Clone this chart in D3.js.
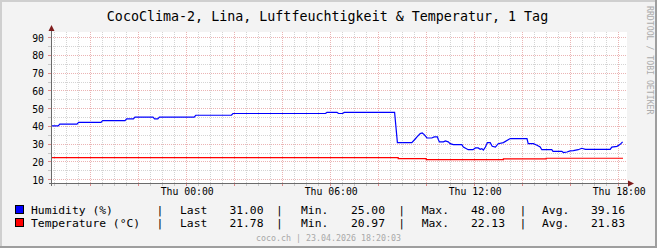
<!DOCTYPE html>
<html>
<head>
<meta charset="utf-8">
<script src="https://cdn.jsdelivr.net/npm/d3@7"></script>
<style>
  body { margin: 0; background: #f3f3f3; }
  svg { display: block; }
  text { font-family: "DejaVu Sans Mono", monospace; }
</style>
</head>
<body>
<div id="chart"></div>
<script>
// data
var humTimes = [
  "2026-04-22 18:22", "2026-04-22 18:40", "2026-04-22 18:44", "2026-04-22 19:27", "2026-04-22 19:31",
  "2026-04-22 20:27", "2026-04-22 20:31", "2026-04-22 21:27", "2026-04-22 21:31", "2026-04-22 21:48",
  "2026-04-22 21:52", "2026-04-22 22:37", "2026-04-22 22:41", "2026-04-22 22:49", "2026-04-22 22:53",
  "2026-04-23 00:20", "2026-04-23 00:24", "2026-04-23 01:53", "2026-04-23 01:57", "2026-04-23 05:48",
  "2026-04-23 05:52", "2026-04-23 06:17", "2026-04-23 06:21", "2026-04-23 06:31", "2026-04-23 06:35",
  "2026-04-23 08:41", "2026-04-23 08:48", "2026-04-23 09:24", "2026-04-23 09:32", "2026-04-23 09:37",
  "2026-04-23 09:45", "2026-04-23 09:50", "2026-04-23 09:55", "2026-04-23 10:02", "2026-04-23 10:14",
  "2026-04-23 10:20", "2026-04-23 10:28", "2026-04-23 10:30", "2026-04-23 10:33", "2026-04-23 10:43",
  "2026-04-23 10:48", "2026-04-23 10:55", "2026-04-23 11:00", "2026-04-23 11:08", "2026-04-23 11:29",
  "2026-04-23 11:33", "2026-04-23 11:45", "2026-04-23 11:57", "2026-04-23 12:03", "2026-04-23 12:10",
  "2026-04-23 12:15", "2026-04-23 12:19", "2026-04-23 12:23", "2026-04-23 12:28", "2026-04-23 12:33",
  "2026-04-23 12:40", "2026-04-23 12:45", "2026-04-23 12:53", "2026-04-23 13:00", "2026-04-23 13:13",
  "2026-04-23 13:30", "2026-04-23 14:12", "2026-04-23 14:15", "2026-04-23 14:28", "2026-04-23 14:37",
  "2026-04-23 14:45", "2026-04-23 14:49", "2026-04-23 15:14", "2026-04-23 15:17", "2026-04-23 15:39",
  "2026-04-23 15:43", "2026-04-23 15:52", "2026-04-23 16:00", "2026-04-23 16:08", "2026-04-23 16:20",
  "2026-04-23 16:29", "2026-04-23 16:38", "2026-04-23 17:40", "2026-04-23 17:44", "2026-04-23 17:57",
  "2026-04-23 18:05", "2026-04-23 18:11"
];
var humValues = [
  40, 40, 41, 41, 42,
  42, 43, 43, 44, 44,
  45, 45, 44, 44, 45,
  45, 46, 46, 47, 47,
  47.6, 47.6, 47, 47, 47.6,
  47.6, 30.6, 30.6, 32.5, 33.8,
  35.7, 36.0, 35.1, 33.2, 33.2,
  33.8, 33.8, 32.5, 31.0, 31.0,
  31.5, 31.0, 30.0, 29.5, 29.5,
  28.1, 26.6, 26.6, 27.6, 27.6,
  26.8, 27.2, 26.4, 28.1, 30.6,
  30.6, 28.5, 28.1, 30.0, 30.6,
  32.9, 32.9, 30.0, 30.0, 29.1,
  28.1, 26.6, 26.6, 25.7, 25.7,
  25.0, 25.3, 25.9, 26.1, 26.6,
  27.4, 26.8, 26.8, 28.1, 28.5,
  29.6, 31.0
];

var tempTimes = ["2026-04-22 18:22", "2026-04-23 08:50", "2026-04-23 10:00", "2026-04-23 13:13", "2026-04-23 15:00", "2026-04-23 18:12"];
var tempValues = [22.1, 21.6, 21.0, 21.4, 21.8, 21.8];

var yTicks = [10, 20, 30, 40, 50, 60, 70, 80, 90];

var seriesNames = ["Humidity (%)", "Temperature (°C)"];
var lastVals = ["31.00", "21.78"];
var minVals = ["25.00", "20.97"];
var maxVals = ["48.00", "22.13"];
var avgVals = ["39.16", "21.83"];

var title = "CocoClima-2, Lina, Luftfeuchtigkeit & Temperatur, 1 Tag";
var footer = "coco.ch  | 23.04.2026 18:20:03";
var watermark = "RRDTOOL / TOBI OETIKER";

var W = 657, H = 248;
var margin = { left: 51, right: 30, top: 32, bottom: 65 };
var plotR = W - margin.right, plotB = H - margin.bottom;

var parse = d3.timeParse("%Y-%m-%d %H:%M");

var svg = d3.select("#chart").append("svg")
  .attr("width", W)
  .attr("height", H);

// frame
svg.append("rect").attr("width", W).attr("height", H).attr("fill", "#f3f3f3");
svg.append("rect").attr("x", 0).attr("y", 0).attr("width", W).attr("height", 2).attr("fill", "#cfcfcf");
svg.append("rect").attr("x", 0).attr("y", 0).attr("width", 2).attr("height", H).attr("fill", "#cfcfcf");
svg.append("rect").attr("x", W - 2).attr("y", 0).attr("width", 2).attr("height", H).attr("fill", "#9e9e9e");
svg.append("rect").attr("x", 0).attr("y", H - 2).attr("width", W).attr("height", 2).attr("fill", "#9e9e9e");

var x = d3.scaleTime()
  .domain([parse("2026-04-22 18:22"), parse("2026-04-23 18:22")])
  .range([margin.left, plotR]);

var y = d3.scaleLinear()
  .domain([7.85, 92.9])
  .range([plotB, margin.top]);

// plot background
svg.append("rect")
  .attr("x", margin.left).attr("y", margin.top)
  .attr("width", plotR - margin.left).attr("height", plotB - margin.top)
  .attr("fill", "#ffffff");

var grid = svg.append("g").attr("shape-rendering", "crispEdges");
var px = v => Math.round(v) + 0.5;

// minor grid
var minorX = d3.timeMinute.every(30).range(x.domain()[0], x.domain()[1])
  .filter(d => !(d.getMinutes() === 0 && d.getHours() % 2 === 0));
var majorX = d3.timeHour.every(2).range(x.domain()[0], x.domain()[1]);
var minorY = d3.range(15, 91, 10);

grid.selectAll(".mx").data(minorX).enter().append("line")
  .attr("x1", d => px(x(d))).attr("x2", d => px(x(d)))
  .attr("y1", margin.top).attr("y2", plotB)
  .attr("stroke", "#d4d4d4").attr("stroke-dasharray", "1,1");
grid.selectAll(".my").data(minorY).enter().append("line")
  .attr("x1", margin.left).attr("x2", plotR)
  .attr("y1", d => px(y(d))).attr("y2", d => px(y(d)))
  .attr("stroke", "#d4d4d4").attr("stroke-dasharray", "1,1");

// major grid
grid.selectAll(".Mx").data(majorX).enter().append("line")
  .attr("x1", d => px(x(d))).attr("x2", d => px(x(d)))
  .attr("y1", margin.top).attr("y2", plotB)
  .attr("stroke", "#ebb4b4").attr("stroke-dasharray", "1,1");
grid.selectAll(".My").data(yTicks).enter().append("line")
  .attr("x1", margin.left).attr("x2", plotR)
  .attr("y1", d => px(y(d))).attr("y2", d => px(y(d)))
  .attr("stroke", "#ebb4b4").attr("stroke-dasharray", "1,1");

// small ticks on the axes
grid.selectAll(".tx").data(minorX.concat(majorX)).enter().append("line")
  .attr("x1", d => px(x(d))).attr("x2", d => px(x(d)))
  .attr("y1", plotB).attr("y2", plotB + 3)
  .attr("stroke", (d, i) => i < minorX.length ? "#c8c8c8" : "#e08a8a");
grid.selectAll(".ty").data(minorY.concat(yTicks)).enter().append("line")
  .attr("x1", margin.left - 3).attr("x2", margin.left)
  .attr("y1", d => px(y(d))).attr("y2", d => px(y(d)))
  .attr("stroke", (d, i) => i < minorY.length ? "#c8c8c8" : "#e08a8a");

// series
var hum = humTimes.map((t, i) => ({ t: parse(t), v: humValues[i] }));
var temp = tempTimes.map((t, i) => ({ t: parse(t), v: tempValues[i] }));

svg.append("path")
  .datum(temp)
  .attr("fill", "none")
  .attr("stroke", "#ff0000")
  .attr("stroke-width", 1.2)
  .attr("d", d3.line().curve(d3.curveStepAfter).x(d => x(d.t)).y(d => y(d.v)));

svg.append("path")
  .datum(hum)
  .attr("fill", "none")
  .attr("stroke", "#0000ff")
  .attr("stroke-width", 1.2)
  .attr("d", d3.line().x(d => x(d.t)).y(d => y(d.v)));

// axis lines with arrows
var axisG = svg.append("g").attr("shape-rendering", "crispEdges");
axisG.append("line")
  .attr("x1", margin.left + 0.5).attr("x2", margin.left + 0.5)
  .attr("y1", plotB + 3).attr("y2", margin.top - 3)
  .attr("stroke", "#6a6a6a");
axisG.append("line")
  .attr("x1", margin.left - 2).attr("x2", plotR + 1)
  .attr("y1", plotB + 0.5).attr("y2", plotB + 0.5)
  .attr("stroke", "#6a6a6a");
svg.append("path")
  .attr("d", `M${margin.left - 2.5},${margin.top - 1}L${margin.left + 0.5},${margin.top - 7}L${margin.left + 3.5},${margin.top - 1}Z`)
  .attr("fill", "#7f1d1d");
svg.append("path")
  .attr("d", `M${plotR + 1},${plotB - 2.5}L${plotR + 7},${plotB + 0.5}L${plotR + 1},${plotB + 3.5}Z`)
  .attr("fill", "#7f1d1d");

// axis labels
var xAxis = d3.axisBottom(x)
  .ticks(d3.timeHour.every(6))
  .tickSize(0)
  .tickPadding(0)
  .tickFormat(d3.timeFormat("%a %H:%M"));
var xg = svg.append("g").attr("transform", `translate(0.5, ${plotB})`).call(xAxis);
xg.select(".domain").remove();
xg.selectAll("text")
  .attr("y", 12)
  .attr("dy", 0)
  .attr("fill", "#000")
  .style("font-family", "DejaVu Sans Mono")
  .style("font-size", "9.8px");

var yAxis = d3.axisLeft(y).tickValues(yTicks).tickSize(0).tickPadding(0);
var yg = svg.append("g").attr("transform", `translate(${margin.left - 7}, 0.5)`).call(yAxis);
yg.select(".domain").remove();
yg.selectAll("text")
  .attr("x", 0)
  .attr("dy", "0.36em")
  .attr("fill", "#000")
  .style("font-family", "DejaVu Sans Mono")
  .style("font-size", "9.8px");

// title
svg.append("text")
  .attr("x", 327.5).attr("y", 20.5)
  .attr("text-anchor", "middle")
  .attr("font-size", "13.33px")
  .attr("fill", "#000")
  .text(title);

// watermark
svg.append("text")
  .attr("transform", "translate(646.5, 6) rotate(90)")
  .attr("font-size", "8.2px")
  .attr("fill", "#ababab")
  .text(watermark);

// legend
var colors = ["#0000ff", "#ff0000"];
var rowY = [213.5, 226.5];
var legend = svg.append("g").attr("font-size", "11.33px").attr("fill", "#000");
seriesNames.forEach((name, i) => {
  var yy = rowY[i];
  legend.append("rect")
    .attr("x", 15.5).attr("y", yy - 8)
    .attr("width", 8).attr("height", 8)
    .attr("fill", colors[i]).attr("stroke", "#000");
  legend.append("text").attr("x", 31).attr("y", yy).text(name);
  [160, 279.3, 401.7, 523].forEach(cx => {
    legend.append("text").attr("x", cx).attr("y", yy).attr("text-anchor", "middle").text("|");
  });
  legend.append("text").attr("x", 180).attr("y", yy).text("Last");
  legend.append("text").attr("x", 263.5).attr("y", yy).attr("text-anchor", "end").text(lastVals[i]);
  legend.append("text").attr("x", 301).attr("y", yy).text("Min.");
  legend.append("text").attr("x", 385).attr("y", yy).attr("text-anchor", "end").text(minVals[i]);
  legend.append("text").attr("x", 421.7).attr("y", yy).text("Max.");
  legend.append("text").attr("x", 505).attr("y", yy).attr("text-anchor", "end").text(maxVals[i]);
  legend.append("text").attr("x", 542).attr("y", yy).text("Avg.");
  legend.append("text").attr("x", 625).attr("y", yy).attr("text-anchor", "end").text(avgVals[i]);
});

// footer
svg.append("text")
  .attr("x", 328.5).attr("y", 240.5)
  .attr("text-anchor", "middle")
  .attr("font-size", "8.3px")
  .attr("fill", "#a8a8a8")
  .text(footer);
</script>
</body>
</html>
